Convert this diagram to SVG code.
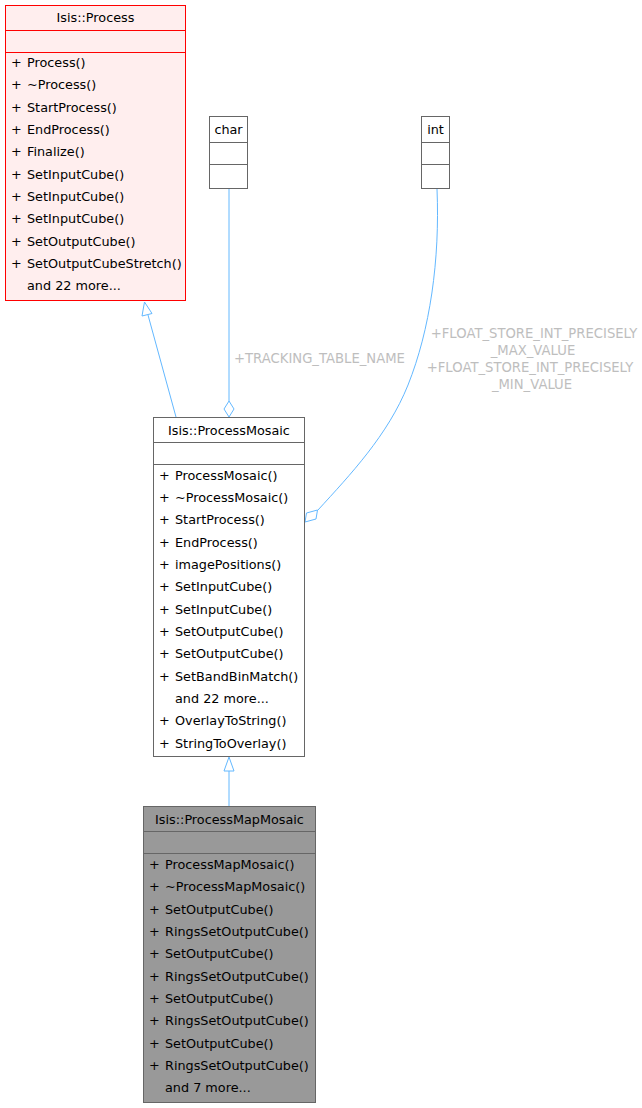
<svg xmlns="http://www.w3.org/2000/svg" width="642" height="1108" viewBox="0 0 642 1108">
<style>
text{font-family:"DejaVu Sans",sans-serif;font-size:12.8px;fill:#000}
.c{text-anchor:middle}
.lbl{fill:#BEBEBE;text-anchor:middle;font-size:13.2px}
.e{fill:none;stroke:#63B8FF;stroke-width:1}
.ah{fill:#fff;stroke:#63B8FF;stroke-width:1}
.n{stroke:#666;stroke-width:1}
</style>
<rect width="642" height="1108" fill="#fff"/>
<g id="edges">
<path class="e" d="M176,417 L148,315"/>
<polygon class="ah" points="144.5,302 142,316 152,313.5"/>
<path class="e" d="M229,189 L229,401"/>
<polygon class="ah" points="229,401 234,409 229,417 224,409"/>
<path class="e" d="M437,189 C440,260 430,330 408,385 C388,435 350,475 318,510"/>
<polygon class="ah" points="305,522 306.5,513 317.5,510 316,519"/>
<path class="e" d="M229,806 L229,771"/>
<polygon class="ah" points="229,757 234,771 224,771"/>
<text class="lbl" x="234" y="363" style="text-anchor:start">+TRACKING_TABLE_NAME</text>
<text class="lbl" x="534" y="338">+FLOAT_STORE_INT_PRECISELY</text>
<text class="lbl" x="533" y="355">_MAX_VALUE</text>
<text class="lbl" x="530" y="372">+FLOAT_STORE_INT_PRECISELY</text>
<text class="lbl" x="532" y="389">_MIN_VALUE</text>
</g>
<g id="node_process">
<rect x="5.5" y="5.5" width="180" height="295" fill="#FFEEEE" stroke="#FF0000"/>
<line x1="5.5" y1="30.5" x2="185.5" y2="30.5" stroke="#FF0000"/>
<line x1="5.5" y1="52.5" x2="185.5" y2="52.5" stroke="#FF0000"/>
<text class="c" x="95.5" y="22">Isis::Process</text>
<text x="11" y="67">+</text><text x="27" y="67">Process()</text>
<text x="11" y="89">+</text><text x="27" y="89">~Process()</text>
<text x="11" y="112">+</text><text x="27" y="112">StartProcess()</text>
<text x="11" y="134">+</text><text x="27" y="134">EndProcess()</text>
<text x="11" y="156">+</text><text x="27" y="156">Finalize()</text>
<text x="11" y="179">+</text><text x="27" y="179">SetInputCube()</text>
<text x="11" y="201">+</text><text x="27" y="201">SetInputCube()</text>
<text x="11" y="223">+</text><text x="27" y="223">SetInputCube()</text>
<text x="11" y="246">+</text><text x="27" y="246">SetOutputCube()</text>
<text x="11" y="268">+</text><text x="27" y="268">SetOutputCubeStretch()</text>
<text x="27" y="290">and 22 more...</text>
</g>
<g id="node_char">
<rect class="n" x="209.5" y="116.5" width="38" height="72" fill="#fff"/>
<line class="n" x1="209.5" y1="142.5" x2="247.5" y2="142.5"/>
<line class="n" x1="209.5" y1="164.5" x2="247.5" y2="164.5"/>
<text class="c" x="228.5" y="134">char</text>
</g>
<g id="node_int">
<rect class="n" x="421.5" y="116.5" width="28" height="72" fill="#fff"/>
<line class="n" x1="421.5" y1="142.5" x2="449.5" y2="142.5"/>
<line class="n" x1="421.5" y1="164.5" x2="449.5" y2="164.5"/>
<text class="c" x="435.5" y="134">int</text>
</g>
<g id="node_processmosaic">
<rect class="n" x="153.5" y="417.5" width="151" height="339" fill="#fff"/>
<line class="n" x1="153.5" y1="442.5" x2="304.5" y2="442.5"/>
<line class="n" x1="153.5" y1="464.5" x2="304.5" y2="464.5"/>
<text class="c" x="229" y="435">Isis::ProcessMosaic</text>
<text x="159" y="480">+</text><text x="175" y="480">ProcessMosaic()</text>
<text x="159" y="502">+</text><text x="175" y="502">~ProcessMosaic()</text>
<text x="159" y="524">+</text><text x="175" y="524">StartProcess()</text>
<text x="159" y="547">+</text><text x="175" y="547">EndProcess()</text>
<text x="159" y="569">+</text><text x="175" y="569">imagePositions()</text>
<text x="159" y="591">+</text><text x="175" y="591">SetInputCube()</text>
<text x="159" y="614">+</text><text x="175" y="614">SetInputCube()</text>
<text x="159" y="636">+</text><text x="175" y="636">SetOutputCube()</text>
<text x="159" y="658">+</text><text x="175" y="658">SetOutputCube()</text>
<text x="159" y="681">+</text><text x="175" y="681">SetBandBinMatch()</text>
<text x="175" y="703">and 22 more...</text>
<text x="159" y="725">+</text><text x="175" y="725">OverlayToString()</text>
<text x="159" y="748">+</text><text x="175" y="748">StringToOverlay()</text>
</g>
<g id="node_processmapmosaic">
<rect class="n" x="143.5" y="806.5" width="172" height="296" fill="#999999"/>
<line class="n" x1="143.5" y1="831.5" x2="315.5" y2="831.5"/>
<line class="n" x1="143.5" y1="853.5" x2="315.5" y2="853.5"/>
<text class="c" x="229.5" y="824">Isis::ProcessMapMosaic</text>
<text x="149" y="869">+</text><text x="165" y="869">ProcessMapMosaic()</text>
<text x="149" y="891">+</text><text x="165" y="891">~ProcessMapMosaic()</text>
<text x="149" y="914">+</text><text x="165" y="914">SetOutputCube()</text>
<text x="149" y="936">+</text><text x="165" y="936">RingsSetOutputCube()</text>
<text x="149" y="958">+</text><text x="165" y="958">SetOutputCube()</text>
<text x="149" y="981">+</text><text x="165" y="981">RingsSetOutputCube()</text>
<text x="149" y="1003">+</text><text x="165" y="1003">SetOutputCube()</text>
<text x="149" y="1025">+</text><text x="165" y="1025">RingsSetOutputCube()</text>
<text x="149" y="1048">+</text><text x="165" y="1048">SetOutputCube()</text>
<text x="149" y="1070">+</text><text x="165" y="1070">RingsSetOutputCube()</text>
<text x="165" y="1092">and 7 more...</text>
</g>
</svg>
